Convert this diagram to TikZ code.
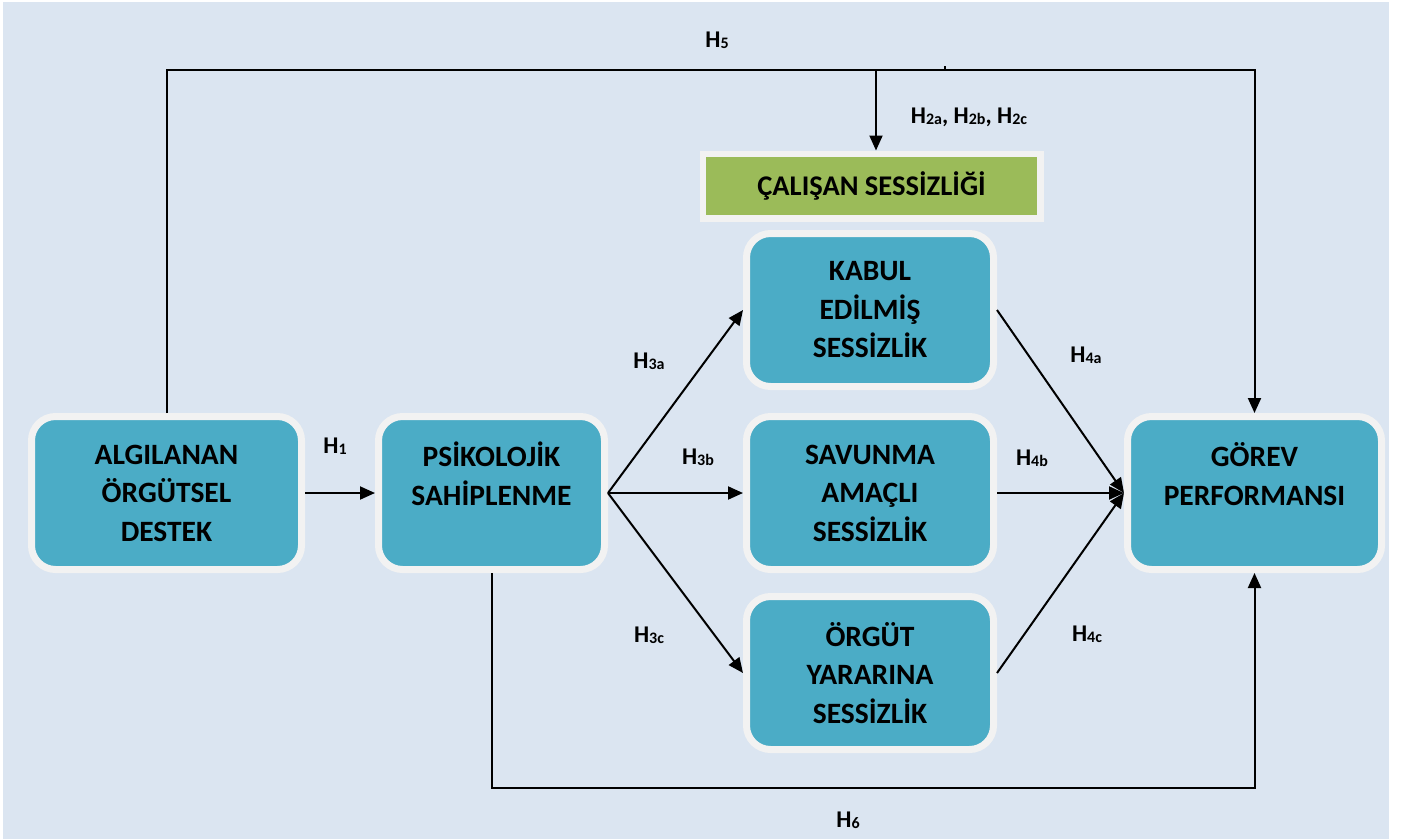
\documentclass[tikz,border=0pt]{standalone}
\usepackage{fontspec}
\setmainfont{Carlito}
\usetikzlibrary{arrows.meta}
\definecolor{bgc}{HTML}{DBE5F1}
\definecolor{boxteal}{HTML}{4BACC6}
\definecolor{rim}{HTML}{F2F2F2}
\definecolor{grn}{HTML}{9BBB59}
\newcommand\Hs[1]{H{\fontsize{16}{16}\selectfont\raisebox{-1pt}{#1}}}
\tikzset{
  box/.style={draw=rim, fill=boxteal, line width=7pt, rounded corners=24pt,
    minimum height=153pt, inner sep=0pt, outer sep=3.5pt, align=center,
    font=\fontsize{29.5}{38.5}\selectfont\bfseries},
  gbox/.style={draw=rim, fill=grn, line width=6.5pt, minimum width=337.5pt,
    minimum height=64.5pt, inner sep=0pt, outer sep=3.25pt,
    font=\fontsize{28.5}{30}\selectfont\bfseries},
  lbl/.style={font=\fontsize{24}{26}\selectfont\bfseries, inner sep=0pt},
  conn/.style={line width=2pt, draw=black},
  arr/.style={conn, -{Triangle[length=15pt,width=13pt]}},
}
\begin{document}
\begin{tikzpicture}[x=1pt,y=-1pt]
\useasboundingbox (0,0) rectangle (1411,839);
\fill[white] (0,0) rectangle (1411,839);
\fill[bgc] (3,2) rectangle (1389,839);

\node[box, minimum width=270pt] (alg) at (166.5,493) {ALGILANAN\\ÖRGÜTSEL\\DESTEK};
\node[box, minimum width=226pt] (psi) at (491.5,493) {PSİKOLOJİK\\SAHİPLENME\\\mbox{}};
\node[box, minimum width=247pt] (kab) at (870,310) {KABUL\\EDİLMİŞ\\SESSİZLİK};
\node[box, minimum width=247pt] (sav) at (870,493) {SAVUNMA\\AMAÇLI\\SESSİZLİK};
\node[box, minimum width=247pt] (org) at (870,673) {ÖRGÜT\\YARARINA\\SESSİZLİK};
\node[box, minimum width=254pt] (gor) at (1254.5,493) {GÖREV\\PERFORMANSI\\\mbox{}};
\node[gbox] (cal) at (871.5,186) {ÇALIŞAN SESSİZLİĞİ};

\coordinate (top) at (0,70);
\coordinate (bot) at (0,788);
\coordinate (h2) at (876,70);
\coordinate (tick) at (945,70);

\draw[arr] (alg.east) -- (psi.west);
\draw[arr] (psi.east) -- (kab.west);
\draw[arr] (psi.east) -- (sav.west);
\draw[arr] (psi.east) -- (org.west);
\draw[arr] (kab.east) -- (gor.west);
\draw[arr] (sav.east) -- (gor.west);
\draw[arr] (org.east) -- (gor.west);
\draw[arr] (alg.north) -- (alg.north |- top) -- (gor.north |- top) -- (gor.north);
\draw[arr] (h2) -- (h2 |- cal.north);
\draw[conn] (tick) -- ++(0,-4);
\draw[arr] (psi.south) -- (psi.south |- bot) -- (gor.south |- bot) -- (gor.south);

\node[lbl] (l5) at (717,40) {\Hs{5}};
\node[lbl] (l2) at (969,117) {\Hs{2a}, \Hs{2b}, \Hs{2c}};
\node[lbl] (l1) at (335,446) {\Hs{1}};
\node[lbl] (l3a) at (649,361) {\Hs{3a}};
\node[lbl] (l3b) at (698,457) {\Hs{3b}};
\node[lbl] (l3c) at (649,635) {\Hs{3c}};
\node[lbl] (l4a) at (1086,355) {\Hs{4a}};
\node[lbl] (l4b) at (1032,458) {\Hs{4b}};
\node[lbl] (l4c) at (1087,634) {\Hs{4c}};
\node[lbl] (l6) at (848,820) {\Hs{6}};
\end{tikzpicture}
\end{document}
